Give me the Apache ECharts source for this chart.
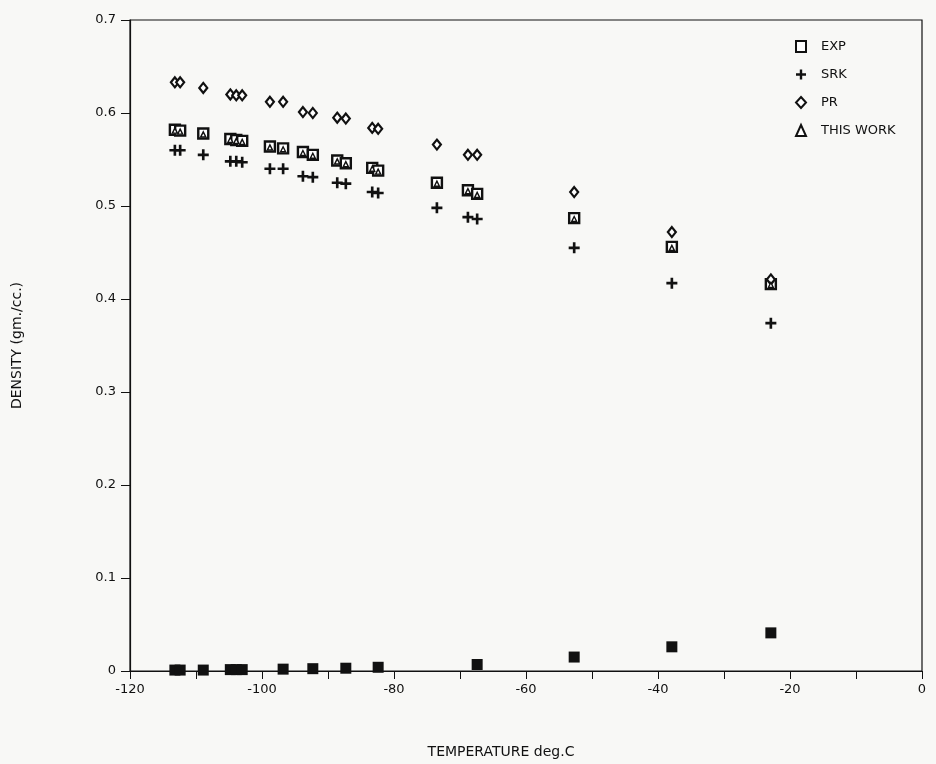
<!DOCTYPE html>
<html>
<head>
<meta charset="utf-8">
<script src="https://cdn.jsdelivr.net/npm/echarts@6/dist/echarts.min.js"></script>
<style>
  html, body { margin: 0; padding: 0; background: #f8f8f6; }
  #chart { width: 936px; height: 764px; }
</style>
</head>
<body>
<div id="chart"></div>
<script>
// liquid phase temperatures (deg C)
const liqTemp = [-113.2, -112.4, -108.9, -104.8, -103.9, -103.0, -98.8, -96.8, -93.8, -92.3,
  -88.6, -87.3, -83.3, -82.4, -73.5, -68.8, -67.4, -52.7, -37.9, -22.9]
const expLiq = [0.582, 0.581, 0.578, 0.572, 0.571, 0.570, 0.564, 0.562, 0.558, 0.555,
  0.549, 0.546, 0.541, 0.538, 0.525, 0.517, 0.513, 0.487, 0.456, 0.416]
const srkLiq = [0.560, 0.560, 0.555, 0.548, 0.548, 0.547, 0.540, 0.540, 0.532, 0.531,
  0.525, 0.524, 0.515, 0.514, 0.498, 0.488, 0.486, 0.455, 0.417, 0.374]
const prLiq = [0.633, 0.633, 0.627, 0.620, 0.619, 0.619, 0.612, 0.612, 0.601, 0.600,
  0.595, 0.594, 0.584, 0.583, 0.566, 0.555, 0.555, 0.515, 0.472, 0.421]
const thisLiq = [0.581, 0.580, 0.577, 0.571, 0.570, 0.569, 0.563, 0.561, 0.557, 0.554,
  0.548, 0.545, 0.540, 0.537, 0.524, 0.516, 0.512, 0.486, 0.455, 0.415]

// vapour phase (all models overlap the data here)
const vapTemp = [-113.2, -112.4, -108.9, -104.8, -103.9, -103.0, -96.8, -92.3, -87.3, -82.4,
  -67.4, -52.7, -37.9, -22.9]
const vapDens = [0.001, 0.001, 0.001, 0.0015, 0.0015, 0.0015, 0.002, 0.0025, 0.003, 0.004,
  0.007, 0.015, 0.026, 0.041]

const legendNames = ['EXP', 'SRK', 'PR', 'THIS WORK']

function pairs(xs, ys) {
  return xs.map((x, i) => [x, ys[i]])
}

const ink = '#111111'
const font = 'DejaVu Sans'
const plusPath = 'path://M3.8,0H6.2V3.8H10V6.2H6.2V10H3.8V6.2H0V3.8H3.8Z'

let myChart = echarts.init(document.getElementById('chart'))

let option = {
  backgroundColor: '#f8f8f6',
  animation: false,
  textStyle: { fontFamily: font, color: ink },
  grid: {
    left: 130, right: 14, top: 20, bottom: 93,
    show: true, borderColor: ink, borderWidth: 1.2, backgroundColor: 'transparent'
  },
  legend: {
    data: legendNames,
    orient: 'vertical',
    left: 790,
    top: 35,
    itemWidth: 10,
    itemHeight: 11,
    itemGap: 15,
    textStyle: { fontSize: 13, color: ink, padding: [0, 0, 0, 10] }
  },
  xAxis: {
    type: 'value',
    min: -120,
    max: 0,
    interval: 10,
    name: 'TEMPERATURE deg.C',
    nameLocation: 'middle',
    nameGap: 74,
    nameTextStyle: { fontSize: 14, color: ink, padding: [0, 50, 0, 0] },
    axisLine: { onZero: false, lineStyle: { color: ink, width: 1.2 } },
    axisTick: { length: 8, lineStyle: { color: ink } },
    axisLabel: {
      fontSize: 13, color: ink, margin: 12,
      formatter: v => (v % 20 === 0 ? String(v) : '')
    },
    splitLine: { show: false }
  },
  yAxis: {
    type: 'value',
    min: 0,
    max: 0.7,
    interval: 0.1,
    name: 'DENSITY (gm./cc.)',
    nameLocation: 'middle',
    nameGap: 106,
    nameTextStyle: { fontSize: 14, color: ink },
    axisLine: { show: true, onZero: false, lineStyle: { color: ink, width: 1.2 } },
    axisTick: { show: true, length: 9, lineStyle: { color: ink } },
    axisLabel: { fontSize: 13, color: ink, margin: 14 },
    splitLine: { show: false }
  },
  series: [
    {
      name: 'EXP', type: 'scatter', symbol: 'rect', symbolSize: 10,
      itemStyle: { color: '#fff', borderColor: ink, borderWidth: 2.4, opacity: 1 },
      data: pairs(liqTemp, expLiq)
    },
    {
      name: 'SRK', type: 'scatter', symbol: plusPath, symbolSize: 11,
      itemStyle: { color: ink, opacity: 1 },
      data: pairs(liqTemp, srkLiq)
    },
    {
      name: 'PR', type: 'scatter', symbol: 'diamond', symbolSize: [8, 10],
      itemStyle: { color: '#fff', borderColor: ink, borderWidth: 2.2, opacity: 1 },
      data: pairs(liqTemp, prLiq)
    },
    {
      name: 'THIS WORK', type: 'scatter', symbol: 'triangle', symbolSize: 5,
      itemStyle: { color: '#fff', borderColor: ink, borderWidth: 1.4, opacity: 1 },
      data: pairs(liqTemp, thisLiq)
    },
    {
      name: 'vapour', type: 'scatter', symbol: 'rect', symbolSize: 11,
      itemStyle: { color: ink, opacity: 1 },
      data: pairs(vapTemp, vapDens)
    }
  ]
}

myChart.setOption(option)
window.addEventListener('resize', function () {
  myChart.resize()
})
</script>
</body>
</html>
